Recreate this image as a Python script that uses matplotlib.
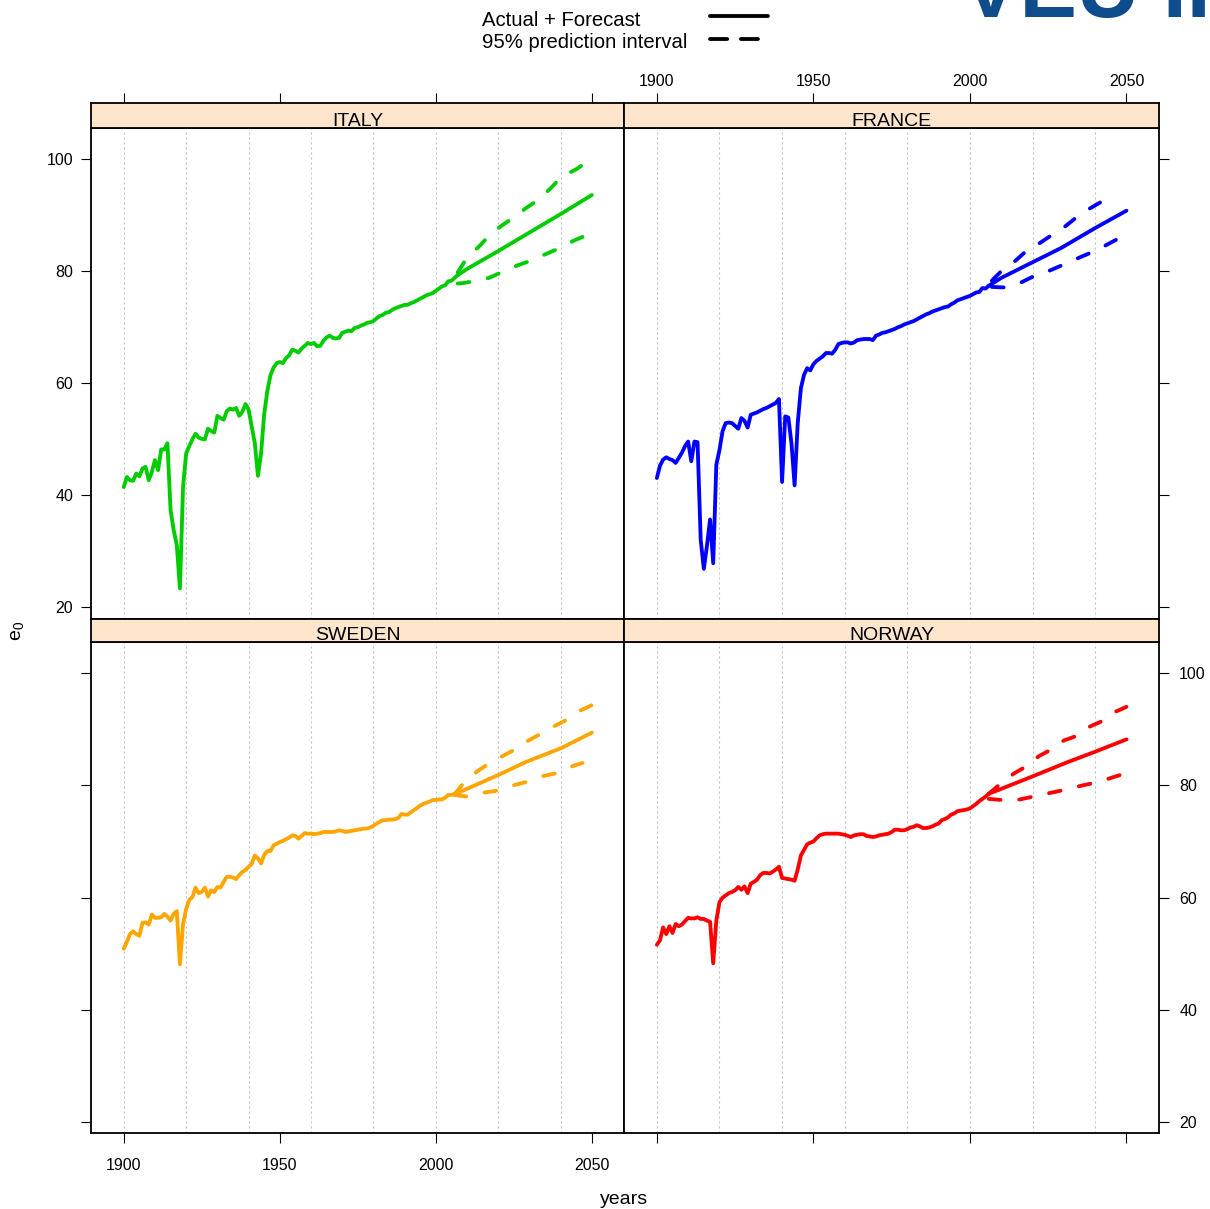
import matplotlib
matplotlib.use('Agg')
import matplotlib.pyplot as plt
from matplotlib.lines import Line2D

plt.rcParams['font.family'] = ['Liberation Sans', 'DejaVu Sans']

# ---------------- data ----------------
countries = ['ITALY', 'FRANCE', 'SWEDEN', 'NORWAY']
colors = ['#00CC00', '#0000FF', '#FFA500', '#FF0000']

italy_years = list(range(1900, 2008))
italy_e0 = [
    41.5, 43.3, 42.7, 42.6, 43.9, 43.4, 44.8, 45.1, 42.7, 44.2,   # 1900s
    46.3, 44.5, 48.2, 48.2, 49.3, 37.4, 33.8, 31.1, 23.4, 41.5,   # 1910s
    47.5, 48.8, 50.0, 51.0, 50.3, 50.1, 50.0, 51.9, 51.5, 51.2,   # 1920s
    54.2, 53.8, 53.5, 55.0, 55.5, 55.3, 55.6, 54.2, 54.9, 56.3,   # 1930s
    55.3, 52.3, 49.3, 43.5, 47.5, 54.5, 58.6, 61.4, 62.8, 63.6,   # 1940s
    63.8, 63.6, 64.5, 65.0, 66.0, 65.8, 65.5, 66.2, 66.7, 67.2,   # 1950s
    67.0, 67.2, 66.6, 66.7, 67.6, 68.2, 68.5, 68.1, 68.0, 68.1,   # 1960s
    69.0, 69.2, 69.4, 69.3, 69.9, 70.0, 70.3, 70.5, 70.8, 70.9,   # 1970s
    71.1, 71.6, 72.0, 72.2, 72.6, 72.7, 73.1, 73.4, 73.6, 73.8,   # 1980s
    74.0, 74.0, 74.3, 74.5, 74.8, 75.1, 75.4, 75.7, 75.9, 76.1,   # 1990s
    76.5, 76.9, 77.3, 77.5, 78.2, 78.3, 78.8, 79.3]               # 2000s

france_years = list(range(1900, 2007))
france_e0 = [
    43.1, 45.3, 46.4, 46.8, 46.5, 46.3, 45.8, 46.7, 47.6, 48.8,
    49.6, 46.1, 49.6, 49.5, 32.1, 26.9, 31.0, 35.7, 27.9, 45.5,
    48.1, 51.5, 52.9, 53.0, 52.9, 52.4, 51.9, 53.8, 53.3, 52.1,
    54.4, 54.6, 54.8, 55.1, 55.4, 55.6, 55.9, 56.2, 56.5, 57.2,
    42.4, 54.1, 53.9, 49.3, 41.8, 52.9, 59.1, 61.5, 62.7, 62.3,
    63.4, 64.0, 64.4, 64.8, 65.4, 65.4, 65.3, 66.0, 67.0, 67.2,
    67.3, 67.3, 67.1, 67.3, 67.7, 67.8, 67.9, 67.9, 67.9, 67.7,
    68.5, 68.7, 69.0, 69.1, 69.3, 69.5, 69.7, 70.0, 70.2, 70.5,
    70.7, 70.9, 71.1, 71.4, 71.7, 72.0, 72.3, 72.5, 72.8, 73.0,
    73.2, 73.4, 73.6, 73.7, 74.1, 74.4, 74.8, 75.0, 75.2, 75.4,
    75.6, 75.9, 76.2, 76.3, 77.0, 76.9, 77.4]

sweden_years = list(range(1900, 2007))
sweden_e0 = [
    50.9, 52.1, 53.5, 54.0, 53.5, 53.2, 55.5, 55.6, 55.2, 57.0,
    56.4, 56.4, 56.5, 57.1, 56.6, 55.9, 57.1, 57.6, 48.1, 55.3,
    58.0, 59.6, 60.1, 61.8, 60.8, 61.0, 61.8, 60.2, 61.3, 61.0,
    61.9, 61.8, 62.8, 63.7, 63.7, 63.6, 63.3, 64.0, 64.6, 64.9,
    65.5, 66.0, 67.5, 67.0, 66.1, 67.6, 68.3, 68.3, 69.3, 69.6,
    69.9, 70.1, 70.4, 70.7, 71.1, 71.0, 70.5, 71.0, 71.5, 71.4,
    71.4, 71.3, 71.4, 71.5, 71.7, 71.7, 71.7, 71.7, 71.8, 72.0,
    71.9, 71.7, 71.8, 71.9, 72.0, 72.1, 72.2, 72.3, 72.3, 72.5,
    72.8, 73.2, 73.5, 73.8, 73.8, 73.9, 73.9, 74.0, 74.2, 74.9,
    74.8, 74.8, 75.2, 75.6, 76.0, 76.4, 76.7, 76.9, 77.1, 77.4,
    77.4, 77.5, 77.5, 77.8, 78.3, 78.3, 78.5]

norway_years = list(range(1900, 2007))
norway_e0 = [
    51.6, 52.4, 54.7, 53.5, 54.9, 53.7, 55.3, 54.9, 55.2, 55.8,
    56.4, 56.3, 56.3, 56.5, 56.2, 56.2, 55.9, 55.7, 48.3, 55.9,
    59.2, 60.0, 60.4, 60.8, 61.0, 61.3, 61.9, 61.4, 62.0, 60.8,
    62.5, 62.8, 63.2, 64.0, 64.4, 64.4, 64.3, 64.6, 65.0, 65.5,
    63.5, 63.4, 63.3, 63.2, 63.0, 65.0, 67.5, 68.5, 69.5, 69.8,
    70.0, 70.6, 71.1, 71.3, 71.4, 71.4, 71.4, 71.4, 71.4, 71.3,
    71.2, 71.0, 70.8, 71.1, 71.2, 71.3, 71.3, 71.0, 70.9, 70.8,
    70.9, 71.1, 71.2, 71.3, 71.4, 71.7, 72.1, 72.1, 72.0, 72.0,
    72.2, 72.5, 72.6, 72.9, 72.7, 72.4, 72.4, 72.5, 72.7, 73.0,
    73.2, 73.8, 74.0, 74.3, 74.8, 75.0, 75.4, 75.5, 75.6, 75.7,
    75.9, 76.3, 76.7, 77.2, 77.6, 78.0, 78.5]

# forecasts: central, upper and lower 95% bounds
italy_fc_years = [2007, 2010, 2020, 2030, 2040, 2050]
italy_fc = [79.3, 80.4, 83.6, 86.9, 90.2, 93.6]
italy_up_years = [2007, 2010, 2014, 2017, 2021, 2025, 2029, 2033, 2037, 2040, 2045, 2049]
italy_up = [79.8, 82.4, 84.5, 86.3, 88.1, 89.6, 91.3, 92.8, 94.9, 96.7, 98.2, 99.7]
italy_lo_years = [2007, 2009, 2013, 2017, 2021, 2026, 2030, 2035, 2040, 2044, 2049]
italy_lo = [77.8, 77.9, 78.3, 78.8, 79.8, 81.0, 81.8, 83.0, 84.2, 85.4, 86.6]

france_fc_years = [2006, 2010, 2020, 2029, 2040, 2050]
france_fc = [77.4, 78.8, 81.6, 84.1, 87.7, 90.8]
france_up_years = [2007, 2010, 2014, 2018, 2022, 2026, 2030, 2034, 2038, 2042, 2046]
france_up = [78.3, 80.0, 81.6, 83.6, 84.9, 86.4, 87.8, 89.6, 91.1, 92.4, 94.0]
france_lo_years = [2007, 2011, 2016, 2020, 2025, 2030, 2034, 2039, 2043, 2047, 2050]
france_lo = [77.2, 77.1, 77.9, 79.0, 80.0, 81.2, 82.2, 83.4, 84.5, 85.7, 86.3]

sweden_fc_years = [2006, 2020, 2029, 2040, 2050]
sweden_fc = [78.4, 81.85, 84.2, 86.6, 89.4]
sweden_up_years = [2006, 2009, 2013, 2017, 2021, 2025, 2029, 2033, 2037, 2041, 2045, 2050]
sweden_up = [78.4, 80.5, 82.4, 83.9, 85.1, 86.3, 87.8, 89.0, 90.3, 91.4, 93.0, 94.3]
sweden_lo_years = [2006, 2010, 2014, 2019, 2024, 2029, 2033, 2038, 2042, 2047]
sweden_lo = [78.3, 78.0, 78.6, 79.0, 79.9, 80.6, 81.5, 82.1, 83.1, 84.0]

norway_fc_years = [2006, 2020, 2031, 2040, 2050]
norway_fc = [78.5, 81.6, 84.1, 86.0, 88.2]
norway_up_years = [2006, 2010, 2014, 2018, 2022, 2026, 2030, 2034, 2038, 2042, 2046, 2050]
norway_up = [78.5, 80.4, 82.1, 83.4, 85.2, 86.4, 88.0, 88.8, 90.4, 91.4, 93.0, 94.0]
norway_lo_years = [2006, 2012, 2016, 2021, 2026, 2031, 2036, 2041, 2046, 2050]
norway_lo = [77.6, 77.3, 77.5, 78.1, 78.7, 79.3, 80.0, 80.6, 81.5, 82.2]

actual = [(italy_years, italy_e0), (france_years, france_e0),
          (sweden_years, sweden_e0), (norway_years, norway_e0)]
central = [(italy_fc_years, italy_fc), (france_fc_years, france_fc),
           (sweden_fc_years, sweden_fc), (norway_fc_years, norway_fc)]
upper = [(italy_up_years, italy_up), (france_up_years, france_up),
         (sweden_up_years, sweden_up), (norway_up_years, norway_up)]
lower = [(italy_lo_years, italy_lo), (france_lo_years, france_lo),
         (sweden_lo_years, sweden_lo), (norway_lo_years, norway_lo)]

x_ticks = [1900, 1950, 2000, 2050]
y_ticks = [20, 40, 60, 80, 100]
grid_years = [1900, 1920, 1940, 1960, 1980, 2000, 2020, 2040]

# ---------------- layout ----------------
W, H = 1210, 1209
fig = plt.figure(figsize=(W / 100, H / 100), dpi=100)

def fx(px):
    return px / W

def fy(py):
    return 1 - py / H

cols = [(91.3, 624.3), (624.3, 1159.0)]
rows = [(128.3, 618.7, 103.3), (642.3, 1133.3, 618.7)]  # data top, data bottom, strip top

XLIM = (1889.6, 2060.4)
YLIM = (18.0, 105.5)
LW = 2.75
frame_lw = 1.3
strip_bg = '#FFE5CC'
tick_fs = 11.5

for i, name in enumerate(countries):
    r, c = divmod(i, 2)
    x0, x1 = cols[c]
    ytop, ybot, stop = rows[r]
    ax = fig.add_axes([fx(x0), fy(ybot), fx(x1) - fx(x0), fy(ytop) - fy(ybot)])
    sax = fig.add_axes([fx(x0), fy(ytop), fx(x1) - fx(x0), fy(stop) - fy(ytop)])

    ax.set_xlim(*XLIM)
    ax.set_ylim(*YLIM)
    for g in grid_years:
        ax.axvline(g, color='#BEBEBE', lw=0.8, linestyle=(0, (1.8, 2.7)), zorder=0)

    col = colors[i]
    ay, av = actual[i]
    ax.plot(ay, av, color=col, lw=LW, solid_capstyle='round', solid_joinstyle='round', zorder=3)
    cy, cv = central[i]
    ax.plot(cy, cv, color=col, lw=LW, solid_capstyle='round', solid_joinstyle='round', zorder=3)
    for (py, pv) in (upper[i], lower[i]):
        ax.plot(py, pv, color=col, lw=LW, linestyle=(0, (3.1, 4.9)),
                dash_capstyle='round', dash_joinstyle='round', zorder=3)

    for sp in ax.spines.values():
        sp.set_linewidth(frame_lw)
        sp.set_color('black')

    # strip
    sax.set_xlim(*XLIM)
    sax.set_ylim(0, 1)
    sax.set_facecolor(strip_bg)
    for sp in sax.spines.values():
        sp.set_linewidth(frame_lw)
        sp.set_color('black')
    sax.set_yticks([])
    sax.text(0.5, 0.1, name, transform=sax.transAxes, ha='center', va='baseline',
             fontsize=14, color='black')

    ax.set_xticks(x_ticks)
    ax.set_yticks(y_ticks)
    sax.set_xticks(x_ticks)
    common = dict(direction='out', length=7.5, width=0.8, colors='black',
                  labelsize=tick_fs)

    # y-axis ticks
    if c == 0:
        ax.tick_params(axis='y', which='both', left=True, right=False,
                       labelleft=(r == 0), labelright=False, pad=5.5, **common)
    else:
        ax.tick_params(axis='y', which='both', left=False, right=True,
                       labelleft=False, labelright=(r == 1), pad=7.0, **common)

    # x-axis ticks
    if r == 0:
        ax.tick_params(axis='x', bottom=False, top=False, labelbottom=False, labeltop=False)
        sax.tick_params(axis='x', bottom=False, top=True, labelbottom=False,
                        labeltop=(c == 1), pad=3.0, **common)
    else:
        sax.tick_params(axis='x', bottom=False, top=False, labelbottom=False, labeltop=False)
        ax.tick_params(axis='x', bottom=True, top=False, labelbottom=(c == 0),
                       labeltop=False, pad=10.0, **common)

# axis titles
fig.text(fx(624), fy(1204), 'years', ha='center', va='baseline', fontsize=14)
fig.text(fx(17), fy(631), r'$\mathregular{e_0}$', ha='center', va='center',
         rotation=90, fontsize=14)

# legend (key)
fig.text(fx(482), fy(26.5), 'Actual + Forecast', ha='left', va='baseline', fontsize=14.6)
fig.text(fx(482), fy(47.5), '95% prediction interval', ha='left', va='baseline', fontsize=14.6)
fig.add_artist(Line2D([fx(709.9), fx(768.1)], [fy(15.7), fy(15.7)], transform=fig.transFigure,
                      color='black', lw=LW, solid_capstyle='round'))
fig.add_artist(Line2D([fx(709.9), fx(758.1)], [fy(38.5), fy(38.5)], transform=fig.transFigure,
                      color='black', lw=LW, linestyle=(0, (4.5, 3.6)), dash_capstyle='round'))

# cropped logo fragment at top right of the slide (cut off at the top, as in the source)
fig.text(fx(962), fy(17), 'VEU II', ha='left', va='baseline', fontsize=62,
         fontweight='bold', color='#0E4C8C')

fig.savefig('out.png', dpi=100)
